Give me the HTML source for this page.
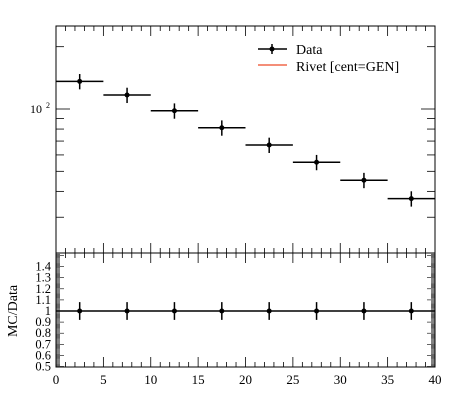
<!DOCTYPE html>
<html><head><meta charset="utf-8"><style>
html,body{margin:0;padding:0;background:#fff}
svg{display:block;font-family:"Liberation Serif",serif}
</style></head><body>
<svg id="c" width="450" height="406" viewBox="0 0 450 406"></svg>
<script>
const categories=[2.5,7.5,12.5,17.5,22.5,27.5,32.5,37.5];
const binLow=[0,5,10,15,20,25,30,35];
const binHigh=[5,10,15,20,25,30,35,40];
const dataValues=[136,116.8,98.1,81.2,67,55.3,45.3,36.9];
const dataErrRel=[0.085,0.085,0.085,0.085,0.085,0.085,0.085,0.085];
const ratioValues=[1,1,1,1,1,1,1,1];
const ratioErr=[0.08,0.08,0.08,0.08,0.08,0.08,0.08,0.08];
const xTickLabels=[0,5,10,15,20,25,30,35,40];
const ratioTickLabels=[0.5,0.6,0.7,0.8,0.9,1,1.1,1.2,1.3,1.4];

const NS="http://www.w3.org/2000/svg";
const svg=document.getElementById('c');
const L=56,R=435,T1=26,B1=253,T2=253,B2=367;
const sx=v=>L+(v-0)/(40-0)*(R-L);
const sy=v=>109-207*Math.log10(v/100);
const sr=v=>311-(v-1)*111;
function el(tag,attrs,parent){const e=document.createElementNS(NS,tag);for(const k in attrs)e.setAttribute(k,attrs[k]);(parent||svg).appendChild(e);return e;}
function ln(x1,y1,x2,y2,w,c,p){return el('line',{x1,y1,x2,y2,stroke:c||'#000','stroke-width':w||1},p);}

let f1=el('rect',{x:L,y:T1,width:R-L,height:B1-T1,fill:'none',stroke:'#000','stroke-width':1});


let f2=el('rect',{x:L,y:T2,width:R-L,height:B2-T2,fill:'none',stroke:'#000','stroke-width':1});



for(let i=0;i<=40;i++){
  const x=sx(i);const maj=i%5===0;const len=maj?10:5;
  ln(x,T1,x,T1+len,0.8);ln(x,B1,x,B1-len,0.8);
  ln(x,T2,x,T2+len,0.8);ln(x,B2,x,B2-len,0.8);
}
xTickLabels.forEach(v=>{
  const t=el('text',{x:sx(v),y:384,'text-anchor':'middle','font-size':13});
  t.textContent=v;
  
  
});
[20,30,40,50,60,70,80,90,100,200].forEach(v=>{
  const y=sy(v);const len=v===100?14:8;
  if(y<T1||y>B1)return;
  ln(L,y,L+len,y,0.8);ln(R,y,R-len,y,0.8);
});
const yl=el('text',{x:36,y:113,'text-anchor':'middle','font-size':12});
yl.textContent='10';


const ye=el('text',{x:46,y:108,'font-size':8});
ye.textContent='2';
for(let i=50;i<=152;i++){
  const v=i/100;const y=sr(v);if(y<T2||y>B2)continue;
  const len=i%10===0?8:4;
  ln(L,y,L+len,y,0.6);ln(R,y,R-len,y,0.6);
}
ratioTickLabels.forEach(v=>{
  const t=el('text',{x:51,y:sr(v)+4,'text-anchor':'end','font-size':12.5});
  t.textContent=v;
  
  
});
const yt=el('text',{x:17,y:311,'text-anchor':'middle','font-size':14,transform:'rotate(-90 17 311)'});
yt.textContent='MC/Data';



categories.forEach((c,i)=>{
  const g=el('g',{});
  
  
  const y=sy(dataValues[i]);
  ln(sx(binLow[i]),y,sx(binHigh[i]),y,1.5,'#000',g);
  ln(sx(c),sy(dataValues[i]*(1+dataErrRel[i])),sx(c),sy(dataValues[i]*(1-dataErrRel[i])),1.5,'#000',g);
  el('circle',{cx:sx(c),cy:y,r:2.5,fill:'#000'},g);
});
const rl=ln(L,sr(1),R,sr(1),1.5);


categories.forEach((c,i)=>{
  const g=el('g',{});
  
  
  const y=sr(ratioValues[i]);
  ln(sx(c),sr(ratioValues[i]+ratioErr[i]),sx(c),sr(ratioValues[i]-ratioErr[i]),1.5,'#000',g);
  el('circle',{cx:sx(c),cy:y,r:2.5,fill:'#000'},g);
});
const lg=el('g',{});


ln(258,49,287,49,1.5,'#000',lg);
ln(272,44,272,54,1.5,'#000',lg);
el('circle',{cx:272,cy:49,r:2.5,fill:'#000'},lg);
const t1=el('text',{x:296,y:54,'font-size':14},lg);t1.textContent='Data';
ln(258,65,287,65,1.5,'#f0684c',lg);
const t2=el('text',{x:296,y:71,'font-size':14},lg);t2.textContent='Rivet [cent=GEN]';
</script>
</body></html>
